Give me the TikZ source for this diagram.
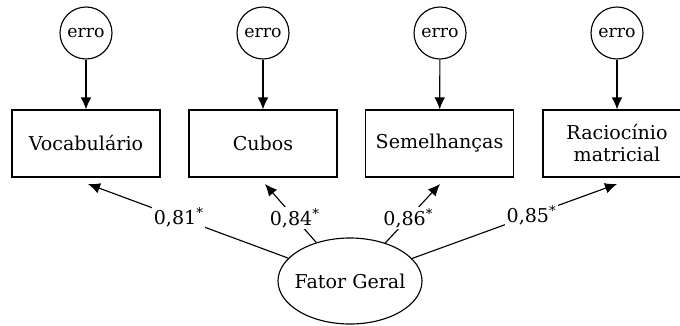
\documentclass[tikz,border=0pt]{standalone}
\usepackage{fontspec}
\setmainfont{DejaVu Serif}
\usetikzlibrary{arrows.meta,shapes.geometric}
\begin{document}
\begin{tikzpicture}[x=0.75pt,y=-0.75pt,
  errnode/.style={draw,circle,minimum size=39pt,inner sep=0pt,line width=0.85pt,font=\fontsize{13}{15}\selectfont},
  varbox/.style={draw,rectangle,minimum width=111pt,minimum height=50.25pt,inner sep=0pt,line width=0.85pt,align=center,font=\fontsize{14.3}{16.5}\selectfont},
  factor/.style={draw,ellipse,minimum width=108pt,minimum height=64.5pt,inner sep=0pt,line width=0.85pt},
  factortext/.style={font=\fontsize{14.3}{16.5}\selectfont},
  arr/.style={-{Latex[length=9pt,width=8pt]},line width=0.85pt},
  coef/.style={fill=white,inner sep=1pt,font=\fontsize{14.3}{16}\selectfont}]
\useasboundingbox (0,0) rectangle (680,325);
% error terms
\node[errnode] (e1) at (86,33) {erro};
\node[errnode] (e2) at (263,33) {erro};
\node[errnode] (e3) at (440,33) {erro};
\node[errnode] (e4) at (617,33) {erro};
% observed variables
\node[varbox] (b1) at (86,143.5) {Vocabulário};
\node[varbox] (b2) at (263,143.5) {Cubos};
\node[varbox] (b3) at (439.5,143.5) {Semelhanças};
\node[varbox] (b4) at (617,143.5) {Raciocínio\\matricial};
% factor
\node[factor,label={[factortext]center:Fator Geral}] (fg) at (350,281) {};
% arrow tips below boxes
\coordinate (t1) at (88,184);
\coordinate (t2) at (265,184);
\coordinate (t3) at (440,184);
\coordinate (t4) at (617,184);
% error arrows
\draw[arr] (e1) -- (b1);
\draw[arr] (e2) -- (b2);
\draw[arr] (e3) -- (b3);
\draw[arr] (e4) -- (b4);
% loadings
\draw[arr] (fg) -- node[coef,pos=0.547]{0,81\textsuperscript{*}} (t1);
\draw[arr] (fg) -- node[coef,pos=0.42]{0,84\textsuperscript{*}} (t2);
\draw[arr] (fg) -- node[coef,pos=0.42]{0,86\textsuperscript{*}} (t3);
\draw[arr] (fg) -- node[coef,pos=0.583]{0,85\textsuperscript{*}} (t4);
\end{tikzpicture}
\end{document}
